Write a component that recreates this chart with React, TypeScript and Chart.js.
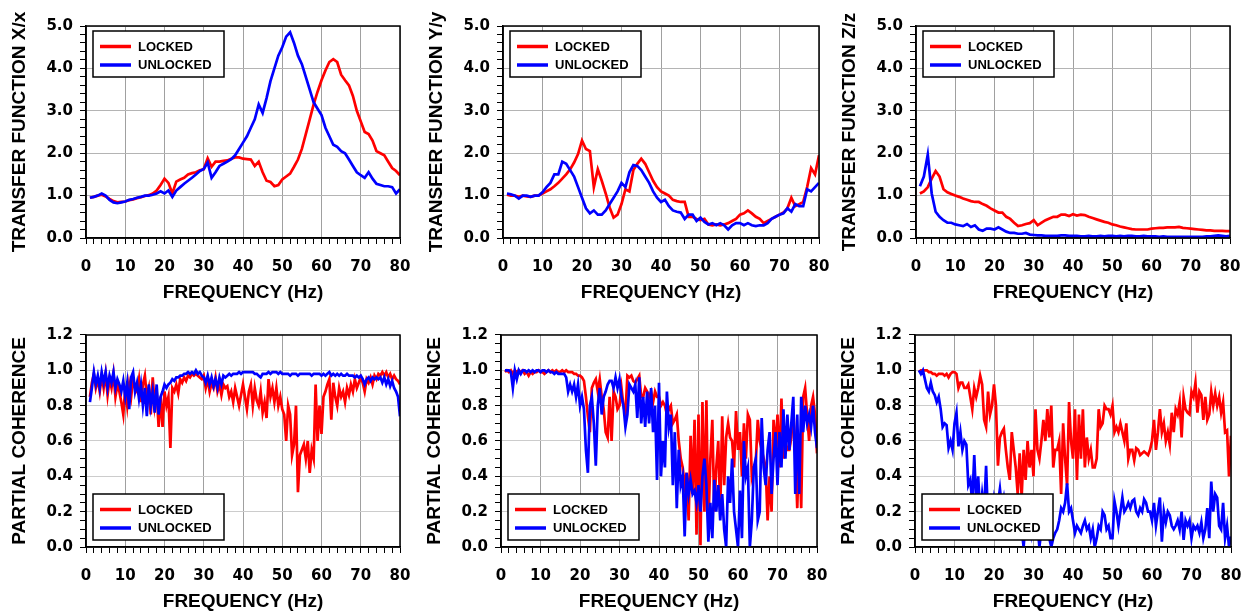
import React, { useEffect, useRef } from "react";
import { Chart, registerables } from "chart.js";

Chart.register(...registerables);

// ---------- categories ----------
const TF_FREQ = Array.from({ length: 80 }, (_, i) => i + 1); // 1..80 Hz
const COH_FREQ = Array.from({ length: 159 }, (_, i) => 1 + i * 0.5); // 1..80 Hz, 0.5 Hz

const SERIES_LABELS = ["LOCKED", "UNLOCKED"];
const X_TITLE = "FREQUENCY (Hz)";
const Y_TITLES = [
  "TRANSFER FUNCTION X/x",
  "TRANSFER FUNCTION Y/y",
  "TRANSFER FUNCTION Z/z",
  "PARTIAL COHERENCE",
  "PARTIAL COHERENCE",
  "PARTIAL COHERENCE",
];

// ---------- transfer functions (1 Hz steps) ----------
const tfX_locked = [
  0.95, 0.97, 1.0, 1.02, 0.98, 0.92, 0.87, 0.84, 0.85, 0.86,
  0.89, 0.91, 0.94, 0.96, 0.99, 1.01, 1.05, 1.12, 1.25, 1.4,
  1.3, 1.05, 1.33, 1.38, 1.42, 1.5, 1.53, 1.55, 1.6, 1.62,
  1.88, 1.68, 1.8, 1.8, 1.82, 1.83, 1.87, 1.9, 1.9, 1.87,
  1.86, 1.85, 1.7, 1.8, 1.55, 1.35, 1.32, 1.22, 1.25, 1.38,
  1.45, 1.52, 1.68, 1.85, 2.1, 2.45, 2.8, 3.15, 3.45, 3.72,
  3.95, 4.15, 4.22, 4.15, 3.85, 3.72, 3.6, 3.35, 3.0, 2.75,
  2.5, 2.45, 2.3, 2.05, 2.0, 1.95, 1.8, 1.65, 1.58, 1.48,
];
const tfX_unlocked = [
  0.95, 0.97, 1.0, 1.05, 1.0, 0.9, 0.84, 0.82, 0.84, 0.86,
  0.9, 0.92, 0.95, 0.97, 1.0, 1.0, 1.02, 1.05, 1.1, 1.05,
  1.12, 0.97, 1.12, 1.2, 1.28, 1.35, 1.42, 1.5, 1.58, 1.63,
  1.78, 1.42, 1.55, 1.7, 1.75, 1.8, 1.86, 1.95, 2.1, 2.25,
  2.4, 2.6, 2.8, 3.15, 2.95, 3.3, 3.7, 4.0, 4.3, 4.5,
  4.75, 4.85, 4.6, 4.3, 4.1, 3.8, 3.5, 3.2, 3.05, 2.9,
  2.6, 2.4, 2.2, 2.15, 2.05, 2.0, 1.85, 1.7, 1.55, 1.48,
  1.42, 1.55, 1.4, 1.28, 1.25, 1.22, 1.22, 1.2, 1.05, 1.15,
];
const tfY_locked = [
  1.02, 1.0, 1.0, 0.97, 1.0, 0.98, 0.97, 1.0, 1.0, 1.05,
  1.1, 1.15, 1.22, 1.3, 1.4, 1.5, 1.62, 1.78, 1.98, 2.3,
  2.1, 2.05, 1.2, 1.62, 1.35, 1.05, 0.72, 0.48, 0.55, 0.8,
  1.15, 1.1, 1.6, 1.75, 1.87, 1.75, 1.55, 1.35, 1.2, 1.1,
  1.05, 1.0, 0.9, 0.87, 0.85, 0.85, 0.5, 0.5, 0.45, 0.42,
  0.45, 0.32, 0.3, 0.32, 0.3, 0.32, 0.35, 0.4, 0.45, 0.55,
  0.58, 0.65, 0.58, 0.5, 0.45, 0.35, 0.4, 0.45, 0.5, 0.55,
  0.6, 0.7, 0.95, 0.75, 0.8, 0.85, 1.2, 1.65, 1.5, 1.95,
];
const tfY_unlocked = [
  1.05, 1.03, 1.0, 0.93, 1.0, 1.0, 0.97, 1.0, 1.0, 1.08,
  1.2, 1.3, 1.5, 1.5, 1.8, 1.75, 1.6, 1.45, 1.2, 0.95,
  0.7, 0.58, 0.65, 0.55, 0.55, 0.65, 0.8, 0.95, 1.1, 1.3,
  1.2, 1.55, 1.72, 1.7, 1.6, 1.45, 1.3, 1.1, 0.95, 0.85,
  0.9, 0.75, 0.65, 0.62, 0.6, 0.45, 0.55, 0.55, 0.4, 0.48,
  0.38, 0.32, 0.35, 0.3, 0.35, 0.3, 0.2, 0.3, 0.35, 0.35,
  0.3, 0.35, 0.3, 0.28, 0.3, 0.3, 0.35, 0.45, 0.5, 0.55,
  0.58, 0.7, 0.62, 0.8, 0.75, 0.75, 1.15, 1.1, 1.2, 1.3,
];
const tfZ_locked = [
  1.05, 1.1, 1.2, 1.4, 1.58, 1.45, 1.15, 1.08, 1.04, 1.0,
  0.97, 0.93, 0.9, 0.87, 0.85, 0.85, 0.8, 0.76, 0.7, 0.65,
  0.6, 0.6, 0.5, 0.45, 0.36, 0.28, 0.3, 0.33, 0.35, 0.42,
  0.3, 0.36, 0.42, 0.46, 0.5, 0.5, 0.55, 0.55, 0.52, 0.56,
  0.53, 0.55, 0.54, 0.5, 0.47, 0.44, 0.41, 0.38, 0.36, 0.32,
  0.3, 0.27, 0.25, 0.23, 0.21, 0.2, 0.2, 0.2, 0.2, 0.22,
  0.23, 0.24, 0.24, 0.25, 0.25, 0.25, 0.26, 0.24, 0.23, 0.22,
  0.21, 0.2, 0.19, 0.18, 0.18, 0.17, 0.17, 0.17, 0.16, 0.16,
];
const tfZ_unlocked = [
  1.22, 1.45, 1.97, 1.05, 0.62, 0.5, 0.42, 0.36, 0.36, 0.32,
  0.3, 0.28, 0.33, 0.26, 0.3, 0.2, 0.17, 0.22, 0.22, 0.2,
  0.25, 0.2, 0.15, 0.12, 0.12, 0.1, 0.1, 0.12, 0.08, 0.07,
  0.06, 0.06, 0.05, 0.05, 0.05, 0.05, 0.06, 0.06, 0.05, 0.05,
  0.05, 0.04, 0.04, 0.05, 0.04, 0.04, 0.05, 0.04, 0.05, 0.05,
  0.04, 0.05, 0.04, 0.05, 0.05, 0.04, 0.04, 0.05, 0.04, 0.04,
  0.04, 0.03, 0.04, 0.03, 0.03, 0.03, 0.03, 0.03, 0.03, 0.03,
  0.03, 0.03, 0.03, 0.04, 0.04, 0.05, 0.06, 0.05, 0.04, 0.05,
];

// ---------- partial coherence (0.5 Hz steps, 1..80) ----------
const cohX_locked = [
  0.85, 0.93, 0.98, 0.9, 0.95, 0.88, 0.97, 0.9, 0.98, 0.86,
  0.95, 0.9, 0.98, 0.85, 0.92, 0.88, 0.82, 0.75, 0.9, 0.8,
  0.92, 0.85, 0.95, 0.9, 0.88, 0.95, 0.82, 0.92, 0.97, 0.85,
  0.9, 0.75, 0.96, 0.8, 0.88, 0.68, 0.85, 0.68, 0.88, 0.8,
  0.85, 0.56, 0.9, 0.88, 0.92, 0.87, 0.95, 0.93, 0.96, 0.94,
  0.97, 0.96, 0.98, 0.97, 0.98, 0.97, 0.96, 0.95, 0.97, 0.9,
  0.95, 0.88, 0.93, 0.9, 0.96, 0.88, 0.92, 0.86, 0.92, 0.9,
  0.91, 0.85, 0.88, 0.82, 0.9, 0.85, 0.8, 0.86, 0.92, 0.85,
  0.78, 0.88, 0.92, 0.8, 0.9, 0.83, 0.8, 0.88, 0.76, 0.82,
  0.73, 0.95, 0.85, 0.9, 0.82, 0.9, 0.8, 0.85, 0.78, 0.75,
  0.6, 0.8, 0.75, 0.52, 0.58, 0.8, 0.31, 0.52, 0.55, 0.58,
  0.5, 0.6, 0.42, 0.55, 0.5, 0.92, 0.6, 0.8, 0.64, 0.85,
  0.88, 0.92, 0.95, 0.72, 0.93, 0.85, 0.8, 0.9, 0.85, 0.88,
  0.82, 0.9, 0.86, 0.92, 0.88, 0.95, 0.9, 0.93, 0.96, 0.93,
  0.88, 0.95, 0.93, 0.96, 0.92, 0.97, 0.95, 0.98, 0.97, 0.99,
  0.97, 0.99, 0.96, 0.98, 0.95, 0.97, 0.95, 0.94, 0.92,
];
const cohX_unlocked = [
  0.82, 0.9, 0.99, 0.92, 0.97, 0.9, 0.99, 0.93, 0.99, 0.9,
  0.97, 0.93, 0.99, 0.9, 0.95, 0.92, 0.88, 0.94, 0.85, 0.93,
  0.78, 0.96, 0.99, 0.88, 0.93, 0.84, 0.92, 0.8, 0.9, 0.74,
  0.92, 0.8, 0.88, 0.76, 0.92, 0.75, 0.85, 0.88, 0.92, 0.9,
  0.92, 0.93, 0.95, 0.94, 0.96, 0.96, 0.97, 0.97, 0.98, 0.98,
  0.99, 0.98, 0.99, 0.98, 1.0, 0.98, 0.99, 0.97, 0.96, 0.93,
  0.97, 0.92, 0.96, 0.91, 0.95, 0.9, 0.96, 0.92, 0.97, 0.96,
  0.97, 0.98, 0.97, 0.98, 0.98, 0.98, 0.99, 0.98, 0.99, 0.99,
  0.99, 0.99, 0.99, 0.99, 0.98, 0.98, 0.97, 0.96, 0.98, 0.98,
  0.98, 0.99, 0.98, 0.99, 0.99, 0.99, 0.98, 0.99, 0.98, 0.98,
  0.98, 0.98, 0.97, 0.98, 0.98, 0.98, 0.97, 0.98, 0.98, 0.98,
  0.98, 0.98, 0.98, 0.97, 0.98, 0.98, 0.98, 0.98, 0.97, 0.98,
  0.97, 0.98, 0.99, 0.97, 0.98, 0.97, 0.98, 0.97, 0.98, 0.97,
  0.97, 0.98, 0.97, 0.97, 0.97, 0.96, 0.97, 0.96, 0.97, 0.95,
  0.92, 0.95, 0.96, 0.94, 0.96, 0.95, 0.96, 0.95, 0.96, 0.93,
  0.96, 0.92, 0.95, 0.91, 0.94, 0.9, 0.88, 0.85, 0.74,
];
const cohY_locked = [
  0.99, 1.0, 0.99, 1.0, 0.98, 1.0, 0.99, 1.0, 0.99, 1.0,
  0.98, 0.99, 0.97, 0.99, 0.98, 0.99, 0.99, 1.0, 0.99, 0.99,
  0.98, 0.99, 1.0, 0.99, 1.0, 0.99, 1.0, 0.99, 0.99, 1.0,
  0.99, 1.0, 0.99, 0.99, 0.99, 0.98, 0.98, 0.97, 0.97, 0.96,
  0.94, 0.85, 0.74, 0.65, 0.9, 0.93, 0.95, 0.88, 0.95, 0.85,
  0.78, 0.65, 0.62, 0.85, 0.6, 0.88, 0.85, 0.78, 0.8, 0.9,
  0.8, 0.75, 0.97, 0.96, 0.97, 0.94, 0.93, 0.95, 0.97, 0.85,
  0.85, 0.9, 0.88, 0.85, 0.88, 0.82, 0.88, 0.85, 0.85, 0.8,
  0.82, 0.8, 0.75, 0.78, 0.8, 0.7, 0.72, 0.75, 0.6, 0.5,
  0.45, 0.35, 0.42, 0.15, 0.63, 0.3, 0.72, 0.07, 0.75, 0.01,
  0.82, 0.2, 0.83, 0.12, 0.5, 0.72, 0.2, 0.45, 0.6, 0.2,
  0.74, 0.35, 0.62, 0.7, 0.62, 0.6, 0.45, 0.77, 0.55, 0.65,
  0.4, 0.7, 0.5, 0.75, 0.72, 0.4, 0.45, 0.48, 0.72, 0.6,
  0.55, 0.5, 0.45, 0.15, 0.4, 0.2, 0.72, 0.55, 0.75, 0.45,
  0.84, 0.5, 0.6, 0.55, 0.55, 0.62, 0.78, 0.55, 0.22, 0.6,
  0.22, 0.85, 0.9, 0.75, 0.6, 0.8, 0.85, 0.75, 0.53,
];
const cohY_unlocked = [
  1.0, 1.0, 1.0, 0.99, 0.9, 1.0, 0.95, 1.0, 0.98, 1.0,
  1.0, 0.99, 1.0, 0.99, 1.0, 0.99, 1.0, 1.0, 0.99, 1.0,
  1.0, 0.99, 1.0, 0.99, 0.99, 0.98, 0.99, 0.98, 0.98, 0.98,
  0.98, 0.96, 0.88, 0.92, 0.88, 0.92, 0.85, 0.92, 0.8, 0.85,
  0.78, 0.55, 0.42, 0.8, 0.85, 0.7, 0.46, 0.8, 0.9, 0.75,
  0.85, 0.88, 0.92, 0.94, 0.94, 0.9, 0.96, 0.9, 0.95, 0.85,
  0.8, 0.68, 0.75, 0.92, 0.9, 0.88, 0.92, 0.73, 0.96, 0.7,
  0.85, 0.68, 0.88, 0.7, 0.9, 0.65, 0.8, 0.38, 0.93, 0.4,
  0.6, 0.45, 0.88, 0.68, 0.75, 0.35, 0.65, 0.22, 0.55, 0.35,
  0.4, 0.06, 0.42, 0.3, 0.38, 0.3, 0.32, 0.25, 0.35, 0.2,
  0.4, 0.5, 0.35, 0.03, 0.25, 0.05, 0.38, 0.2, 0.35, 0.15,
  0.3, 0.1, 0.0, 0.4, 0.25, 0.5, 0.2, 0.1, 0.0, 0.32,
  0.05, 0.6, 0.4, 0.45, 0.0, 0.15, 0.45, 0.5, 0.15, 0.2,
  0.73, 0.45, 0.35, 0.55, 0.65, 0.3, 0.5, 0.65, 0.35, 0.65,
  0.45, 0.78, 0.5, 0.75, 0.55, 0.7, 0.85, 0.3, 0.75, 0.3,
  0.85, 0.65, 0.8, 0.7, 0.75, 0.68, 0.8, 0.65, 0.56,
];
const cohZ_locked = [
  0.99, 1.0, 1.0, 1.0, 1.0, 0.99, 0.99, 0.98, 0.98, 0.97,
  0.98, 0.98, 0.98, 0.97, 0.98, 0.96, 0.98, 0.99, 0.99, 0.98,
  0.9, 0.93, 0.93, 0.9, 0.9, 0.92, 0.85, 0.78, 0.9, 0.85,
  0.9, 0.97, 0.92, 0.72, 0.68, 0.88, 0.75, 0.8, 0.92, 0.8,
  0.46, 0.62, 0.65, 0.67, 0.55, 0.45, 0.38, 0.65, 0.55, 0.45,
  0.3, 0.53, 0.28, 0.55, 0.38, 0.6, 0.45, 0.55, 0.4, 0.78,
  0.55, 0.5, 0.6, 0.72, 0.6, 0.78, 0.62, 0.8, 0.45, 0.55,
  0.55, 0.6, 0.3, 0.7, 0.5, 0.35, 0.82, 0.6, 0.5, 0.78,
  0.38, 0.75, 0.5, 0.78, 0.45, 0.62, 0.5, 0.55, 0.45, 0.45,
  0.5, 0.78, 0.68, 0.7, 0.8, 0.78, 0.78, 0.75, 0.8, 0.65,
  0.68, 0.65, 0.7, 0.65, 0.6, 0.7, 0.5, 0.55, 0.55, 0.49,
  0.56, 0.55, 0.52, 0.53, 0.54, 0.53, 0.52, 0.55, 0.6, 0.72,
  0.55, 0.65, 0.78, 0.65, 0.7, 0.6, 0.65, 0.58, 0.76, 0.65,
  0.78, 0.75, 0.82, 0.62, 0.85, 0.78, 0.76, 0.75, 0.88, 0.85,
  0.93, 0.76, 0.88, 0.86, 0.72, 0.85, 0.72, 0.75, 0.88, 0.8,
  0.87, 0.8, 0.85, 0.76, 0.82, 0.65, 0.66, 0.4, 0.63,
];
const cohZ_unlocked = [
  1.0, 0.98, 1.0, 0.95, 0.9, 0.88, 0.93, 0.88, 0.86, 0.82,
  0.85, 0.78, 0.68, 0.7, 0.69, 0.56, 0.6, 0.55, 0.7, 0.76,
  0.57, 0.65, 0.55, 0.6, 0.58, 0.35, 0.38, 0.25, 0.52, 0.25,
  0.4, 0.18, 0.3, 0.2, 0.46, 0.15, 0.3, 0.2, 0.28, 0.22,
  0.25, 0.33, 0.22, 0.28, 0.2, 0.25, 0.15, 0.2, 0.1, 0.18,
  0.12, 0.2, 0.1, 0.0, 0.15, 0.1, 0.2, 0.08, 0.15, 0.1,
  0.12, 0.0, 0.1, 0.15, 0.08, 0.12, 0.05, 0.0, 0.05, 0.08,
  0.1, 0.15, 0.22, 0.2, 0.25, 0.36, 0.2, 0.22, 0.15, 0.08,
  0.12, 0.1, 0.08, 0.12, 0.15, 0.1, 0.12, 0.05, 0.1, 0.0,
  0.05, 0.12, 0.1, 0.2, 0.18, 0.1, 0.12, 0.05, 0.05, 0.26,
  0.2, 0.12, 0.2, 0.28, 0.2, 0.22, 0.25, 0.22, 0.26, 0.27,
  0.2, 0.18, 0.22, 0.2, 0.27, 0.25, 0.2, 0.2, 0.15, 0.25,
  0.12, 0.2, 0.28, 0.03, 0.2, 0.14, 0.2, 0.18, 0.12, 0.1,
  0.12, 0.15, 0.1, 0.2, 0.04, 0.15, 0.12, 0.15, 0.05, 0.12,
  0.1, 0.12, 0.08, 0.14, 0.05, 0.1, 0.22, 0.05, 0.37, 0.2,
  0.3, 0.28, 0.12, 0.1, 0.25, 0.05, 0.12, 0.0, 0.06,
];

// ---------- layout / style ----------
const FONT = '"Liberation Sans", Arial, Helvetica, sans-serif';
const TICK_FONT = '"DejaVu Sans", "Liberation Sans", Arial, sans-serif';
const YW = 86; // width reserved for y axis (labels + title)
const PT = 20; // padding above plot area
const PR = 14; // padding right of plot area
const XH = 70; // height reserved for x axis

type PanelDef = {
  rect: [number, number, number, number];
  yTitle: string;
  yMax: number;
  yMinor: number;
  yEvery: number;
  freq: number[];
  locked: number[];
  unlocked: number[];
  legendBottom: boolean;
  hGrid: string;
};

const PANELS: PanelDef[] = [
  { rect: [86, 26, 400, 238], yTitle: Y_TITLES[0], yMax: 5, yMinor: 0.2, yEvery: 5, freq: TF_FREQ, locked: tfX_locked, unlocked: tfX_unlocked, legendBottom: false, hGrid: "#b4b4b4" },
  { rect: [503, 26, 819, 238], yTitle: Y_TITLES[1], yMax: 5, yMinor: 0.2, yEvery: 5, freq: TF_FREQ, locked: tfY_locked, unlocked: tfY_unlocked, legendBottom: false, hGrid: "#b4b4b4" },
  { rect: [916, 26, 1230, 238], yTitle: Y_TITLES[2], yMax: 5, yMinor: 0.2, yEvery: 5, freq: TF_FREQ, locked: tfZ_locked, unlocked: tfZ_unlocked, legendBottom: false, hGrid: "#b4b4b4" },
  { rect: [86, 335, 400, 547], yTitle: Y_TITLES[3], yMax: 1.2, yMinor: 0.05, yEvery: 4, freq: COH_FREQ, locked: cohX_locked, unlocked: cohX_unlocked, legendBottom: true, hGrid: "#cccccc" },
  { rect: [501, 335, 817, 547], yTitle: Y_TITLES[4], yMax: 1.2, yMinor: 0.05, yEvery: 4, freq: COH_FREQ, locked: cohY_locked, unlocked: cohY_unlocked, legendBottom: true, hGrid: "#cccccc" },
  { rect: [915, 335, 1231, 547], yTitle: Y_TITLES[5], yMax: 1.2, yMinor: 0.05, yEvery: 4, freq: COH_FREQ, locked: cohZ_locked, unlocked: cohZ_unlocked, legendBottom: true, hGrid: "#cccccc" },
];

const framePlugin = {
  id: "frame",
  afterDatasetsDraw(chart: any) {
    const { ctx, chartArea: a } = chart;
    ctx.save();
    ctx.strokeStyle = "#000";
    ctx.lineWidth = 1.5;
    ctx.strokeRect(a.left, a.top, a.right - a.left, a.bottom - a.top);
    ctx.restore();
  },
};

const boxLegend = {
  id: "boxLegend",
  afterDraw(chart: any, _args: any, opts: any) {
    const { ctx, chartArea: a } = chart;
    const w = 131;
    const h = 46;
    const x = a.left + 7;
    const y = opts.bottom ? a.bottom - 7 - h : a.top + 5;
    ctx.save();
    ctx.fillStyle = "#fff";
    ctx.fillRect(x, y, w, h);
    ctx.strokeStyle = "#000";
    ctx.lineWidth = 1.5;
    ctx.strokeRect(x, y, w, h);
    [0, 1].forEach((k, i) => {
      const ds = chart.data.datasets[k];
      const ly = y + 15.5 + i * 18.5;
      ctx.strokeStyle = ds.borderColor;
      ctx.lineWidth = 3.5;
      ctx.beginPath();
      ctx.moveTo(x + 7, ly);
      ctx.lineTo(x + 38, ly);
      ctx.stroke();
      ctx.fillStyle = "#000";
      ctx.font = `bold 13px ${FONT}`;
      ctx.textBaseline = "middle";
      ctx.textAlign = "left";
      ctx.fillText(ds.label, x + 45, ly + 0.5);
    });
    ctx.restore();
  },
};

function zeroPad(s: any) {
  s.paddingLeft = 0;
  s.paddingRight = 0;
  s.paddingTop = 0;
  s.paddingBottom = 0;
}

function buildConfig(p: PanelDef): any {
  const xTicks = Array.from({ length: 41 }, (_, i) => i * 2);
  const nY = Math.round(p.yMax / p.yMinor);
  const yTicks = Array.from({ length: nY + 1 }, (_, i) => i * p.yMinor);
  const tickFont = { family: TICK_FONT, size: 15, weight: "bold" as const };
  const titleFont = { family: FONT, size: 19, weight: "bold" as const };
  return {
    type: "line",
    data: {
      datasets: [
        {
          label: SERIES_LABELS[0],
          data: p.freq.map((f, i) => ({ x: f, y: p.locked[i] })).filter((d) => d.y !== undefined),
          borderColor: "#ff0000",
          borderWidth: 2.7,
          pointRadius: 0,
          tension: 0,
          fill: false,
          order: 2,
        },
        {
          label: SERIES_LABELS[1],
          data: p.freq.map((f, i) => ({ x: f, y: p.unlocked[i] })).filter((d) => d.y !== undefined),
          borderColor: "#0000ff",
          borderWidth: 2.7,
          pointRadius: 0,
          tension: 0,
          fill: false,
          order: 1,
        },
      ],
    },
    options: {
      responsive: false,
      animation: false,
      devicePixelRatio: 1,
      events: [],
      layout: { padding: { left: 0, top: PT, right: PR, bottom: 0 } },
      plugins: {
        legend: { display: false },
        tooltip: { enabled: false },
        boxLegend: { bottom: p.legendBottom },
      },
      scales: {
        x: {
          type: "linear",
          min: 0,
          max: 80,
          afterBuildTicks: (s: any) => {
            s.ticks = xTicks.map((v) => ({ value: v }));
          },
          afterFit: (s: any) => {
            s.height = XH;
            zeroPad(s);
          },
          ticks: {
            autoSkip: false,
            maxRotation: 0,
            padding: 14,
            color: "#000",
            font: tickFont,
            callback: (v: number, i: number) => (i % 5 === 0 ? String(v) : ""),
          },
          grid: {
            color: (c: any) => (c.index % 5 === 0 ? "#a0a0a0" : "rgba(0,0,0,0)"),
            tickColor: "#000",
            tickLength: 6,
            lineWidth: 1,
          },
          border: { display: true, color: "#000", width: 1.5 },
          title: {
            display: true,
            text: X_TITLE,
            color: "#000",
            font: titleFont,
            padding: { top: 0, bottom: 4 },
          },
        },
        y: {
          type: "linear",
          min: 0,
          max: p.yMax,
          afterBuildTicks: (s: any) => {
            s.ticks = yTicks.map((v) => ({ value: v }));
          },
          afterFit: (s: any) => {
            s.width = YW;
            zeroPad(s);
          },
          ticks: {
            autoSkip: false,
            padding: 7,
            color: "#000",
            font: tickFont,
            callback: (v: number, i: number) => (i % p.yEvery === 0 ? Number(v).toFixed(1) : ""),
          },
          grid: {
            color: (c: any) => (c.index % p.yEvery === 0 ? p.hGrid : "rgba(0,0,0,0)"),
            tickColor: "#000",
            tickLength: 6,
            lineWidth: 1,
          },
          border: { display: true, color: "#000", width: 1.5 },
          title: {
            display: true,
            text: p.yTitle,
            color: "#000",
            font: titleFont,
            padding: { top: 8, bottom: 0 },
          },
        },
      },
    },
    plugins: [framePlugin, boxLegend],
  };
}

function Panel({ p }: { p: PanelDef }) {
  const ref = useRef<HTMLCanvasElement>(null);
  const [L, T, R, B] = p.rect;
  const w = YW + (R - L) + PR;
  const h = PT + (B - T) + XH;
  useEffect(() => {
    if (!ref.current) return;
    const chart = new Chart(ref.current, buildConfig(p));
    return () => chart.destroy();
  }, [p]);
  return (
    <canvas
      ref={ref}
      width={w}
      height={h}
      style={{ position: "absolute", left: L - YW, top: T - PT, width: w, height: h }}
    />
  );
}

export default function App() {
  return (
    <div
      style={{
        position: "absolute",
        left: 0,
        top: 0,
        width: 1250,
        height: 613,
        overflow: "hidden",
        background: "#fff",
      }}
    >
      {PANELS.map((p, i) => (
        <Panel key={i} p={p} />
      ))}
    </div>
  );
}
